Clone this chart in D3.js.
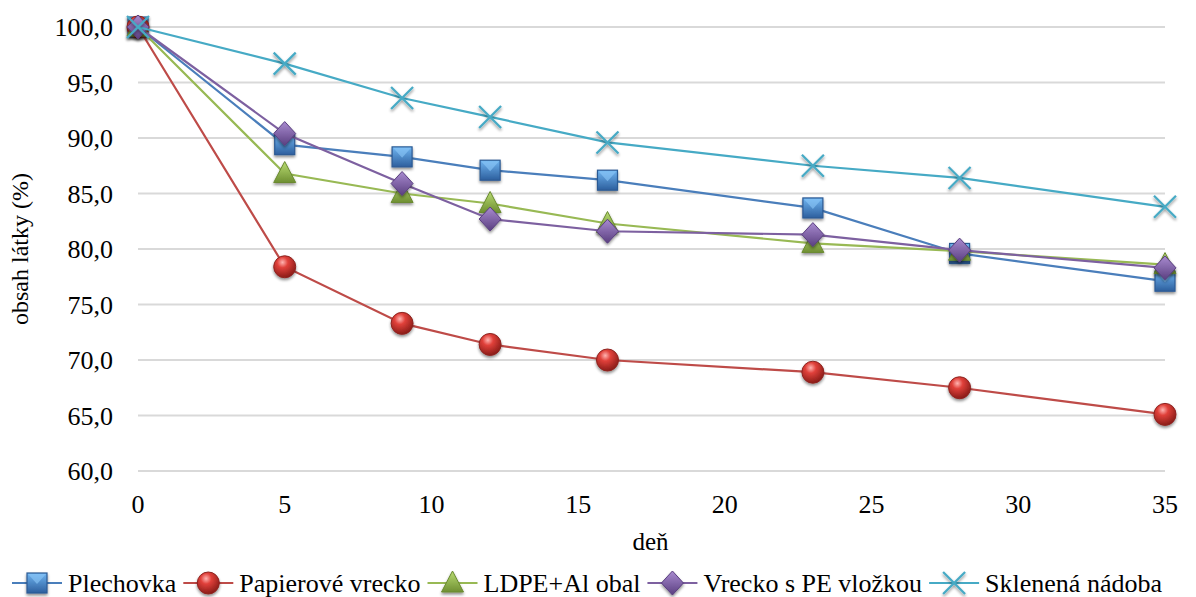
<!DOCTYPE html>
<html>
<head>
<meta charset="utf-8">
<script src="https://cdn.jsdelivr.net/npm/d3@7"></script>
</head>
<body style="margin:0;background:#fff">
<div id="chart"></div>
<script>
// chart data
var days = [0, 5, 9, 12, 16, 23, 28, 35];
var seriesNames = ["Plechovka", "Papierové vrecko", "LDPE+Al obal", "Vrecko s PE vložkou", "Sklenená nádoba"];
var plechovka = [100.0, 89.4, 88.3, 87.1, 86.2, 83.7, 79.6, 77.1];
var papierove = [100.0, 78.4, 73.3, 71.4, 70.0, 68.9, 67.5, 65.1];
var ldpe = [100.0, 86.8, 85.0, 84.1, 82.3, 80.5, 79.8, 78.6];
var vrecko = [100.0, 90.4, 85.9, 82.7, 81.6, 81.3, 79.9, 78.3];
var sklenena = [100.0, 96.7, 93.6, 91.9, 89.6, 87.5, 86.4, 83.8];
var yTicks = [60, 65, 70, 75, 80, 85, 90, 95, 100];
var xTicks = [0, 5, 10, 15, 20, 25, 30, 35];

var allValues = [plechovka, papierove, ldpe, vrecko, sklenena];
var colors = ["#4a7ebb", "#be4b48", "#98b954", "#7d60a0", "#46aac5"];
var shapes = ["square", "circle", "triangle", "diamond", "cross"];
var FONT = "'Liberation Serif'";

var svgWidth = 1196, svgHeight = 597;
var margin = { top: 27, right: 31, bottom: 126, left: 138 };
var width = svgWidth - margin.left - margin.right;
var height = svgHeight - margin.top - margin.bottom;

var svg = d3.select("#chart").append("svg")
  .attr("width", svgWidth)
  .attr("height", svgHeight);

// gradients + shadow
var defs = svg.append("defs");
var sh = defs.append("filter").attr("id", "shadow")
  .attr("x", "-50%").attr("y", "-50%").attr("width", "200%").attr("height", "200%");
sh.append("feGaussianBlur").attr("in", "SourceAlpha").attr("stdDeviation", 1.6);
sh.append("feOffset").attr("dx", 0).attr("dy", 2);
sh.append("feComponentTransfer").append("feFuncA").attr("type", "linear").attr("slope", 0.45);
var mg = sh.append("feMerge");
mg.append("feMergeNode");
mg.append("feMergeNode").attr("in", "SourceGraphic");

function linGrad(id, c1, c2) {
  var g = defs.append("linearGradient").attr("id", id).attr("x1", 0).attr("y1", 0).attr("x2", 0).attr("y2", 1);
  g.append("stop").attr("offset", "0%").attr("stop-color", c1);
  g.append("stop").attr("offset", "100%").attr("stop-color", c2);
}
linGrad("g0", "#6fb4f0", "#2d5f9e");
linGrad("g2", "#b9dc72", "#6f8f32");
linGrad("g3", "#a98bd0", "#5a3f80");
var rg = defs.append("radialGradient").attr("id", "g1").attr("cx", "40%").attr("cy", "30%").attr("r", "70%");
rg.append("stop").attr("offset", "0%").attr("stop-color", "#ffb3b0");
rg.append("stop").attr("offset", "35%").attr("stop-color", "#e0403a");
rg.append("stop").attr("offset", "100%").attr("stop-color", "#8a1c18");

var chartGroup = svg.append("g")
  .attr("transform", `translate(${margin.left}, ${margin.top})`);

var xScale = d3.scaleLinear().domain([0, 35]).range([0, width]);
var yScale = d3.scaleLinear().domain([60, 100]).range([height, 0]);

// gridlines
chartGroup.append("g").selectAll("line")
  .data(yTicks)
  .enter().append("line")
  .attr("x1", 0).attr("x2", width)
  .attr("y1", d => yScale(d)).attr("y2", d => yScale(d))
  .attr("stroke", "#d9d9d9").attr("stroke-width", 2);

// y axis labels (plain text elements, no d3 axis defaults)
chartGroup.append("g").selectAll("text")
  .data(yTicks)
  .enter().append("text")
  .attr("x", -25)
  .attr("y", d => yScale(d) + 9)
  .attr("text-anchor", "end")
  .attr("font-size", 26)
  .style("font-family", FONT)
  .text(d => d3.format(".1f")(d).replace(".", ","));

// x axis labels
chartGroup.append("g").selectAll("text")
  .data(xTicks)
  .enter().append("text")
  .attr("x", d => xScale(d))
  .attr("y", height + 42)
  .attr("text-anchor", "middle")
  .attr("font-size", 26)
  .style("font-family", FONT)
  .text(d => d);

// axis titles
svg.append("text")
  .attr("x", margin.left + width / 2 - 1)
  .attr("y", 550)
  .attr("text-anchor", "middle")
  .attr("font-size", 25)
  .style("font-family", FONT)
  .text("deň");

svg.append("text")
  .attr("transform", `translate(28, ${margin.top + height / 2}) rotate(-90)`)
  .attr("text-anchor", "middle")
  .attr("font-size", 24)
  .style("font-family", FONT)
  .text("obsah látky (%)");

// markers
function drawMarker(g, shape, i) {
  if (shape === "square") {
    g.append("rect").attr("x", -10).attr("y", -10).attr("width", 20).attr("height", 20)
      .attr("fill", "url(#g0)").attr("stroke", "#2c5a94").attr("stroke-width", 1.2);
    g.append("path").attr("d", "M-9,-9L0,1L9,-9Z")
      .attr("fill", "#8cc8f8").attr("opacity", 0.6);
  } else if (shape === "circle") {
    g.append("circle").attr("r", 11).attr("fill", "url(#g1)").attr("stroke", "#8e2420").attr("stroke-width", 1);
  } else if (shape === "triangle") {
    g.append("path").attr("d", "M0,-12L11,9L-11,9Z")
      .attr("fill", "url(#g2)").attr("stroke", "#6a8a30").attr("stroke-width", 1);
  } else if (shape === "diamond") {
    g.append("path").attr("d", "M0,-12L11,0L0,12L-11,0Z")
      .attr("fill", "url(#g3)").attr("stroke", "#5a3f80").attr("stroke-width", 1);
  } else if (shape === "cross") {
    g.append("path").attr("d", "M-11,-11L11,11M11,-11L-11,11")
      .attr("stroke", colors[i]).attr("stroke-width", 2.2).attr("fill", "none");
  }
}

var line = d3.line().x(d => xScale(d.day)).y(d => yScale(d.v));

allValues.forEach(function(vals, i) {
  var pts = days.map((d, k) => ({ day: d, v: vals[k] }));
  var sg = chartGroup.append("g");
  sg.append("path")
    .datum(pts)
    .attr("d", line)
    .attr("fill", "none")
    .attr("stroke", colors[i])
    .attr("stroke-width", 2.2);
  sg.selectAll("g.m")
    .data(pts)
    .enter().append("g")
    .attr("class", "m")
    .attr("filter", "url(#shadow)")
    .attr("transform", d => `translate(${xScale(d.day)}, ${yScale(d.v)})`)
    .each(function() { drawMarker(d3.select(this), shapes[i], i); });
});

// legend: widths measured with a canvas instead of the svg text
var ctx = document.createElement("canvas").getContext("2d");
ctx.font = "26px 'Liberation Serif'";
var legend = svg.append("g").attr("transform", "translate(0, 583)");
var lx = 12;
seriesNames.forEach(function(name, i) {
  var it = legend.append("g").attr("transform", `translate(${lx}, 0)`);
  it.append("line").attr("x1", 0).attr("x2", 50).attr("y1", 0).attr("y2", 0)
    .attr("stroke", colors[i]).attr("stroke-width", 2.2);
  var mk = it.append("g").attr("transform", "translate(25, 0)").attr("filter", "url(#shadow)");
  drawMarker(mk, shapes[i], i);
  it.append("text").attr("x", 56).attr("y", 9)
    .attr("font-size", 26)
    .style("font-family", FONT)
    .text(name);
  lx += 56 + ctx.measureText(name).width + 7;
});
</script>
</body>
</html>
